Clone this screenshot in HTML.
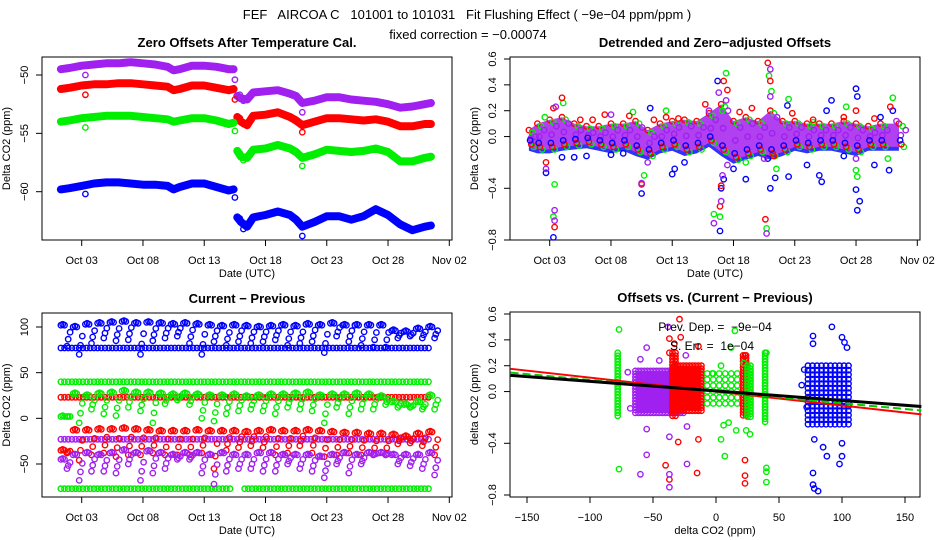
<!DOCTYPE html>
<html><head><meta charset="utf-8"><style>
html,body{margin:0;padding:0;background:#fff;}
svg{display:block;font-family:"Liberation Sans",sans-serif;}
text{white-space:pre;}
</style></head><body>
<svg id="chart" width="936" height="540" viewBox="0 0 936 540" xmlns="http://www.w3.org/2000/svg">
<text x="467" y="19" font-size="13" text-anchor="middle">FEF   AIRCOA C   101001 to 101031   Fit Flushing Effect ( −9e−04 ppm/ppm )</text>
<text x="468" y="39" font-size="13" text-anchor="middle">fixed correction = −0.00074</text>
<g id="layer"></g>
</svg>
<script>
// ---------- data ----------
const dateTickLabels = ["Oct 03","Oct 08","Oct 13","Oct 18","Oct 23","Oct 28","Nov 02"];
const dateTickDays = [3,8,13,18,23,28,33];
const seriesColors = {blue:"#0000ff",red:"#ff0000",green:"#00ee00",purple:"#a020f0"};

// Panel 1: zero offsets
const p1Days1 = [1.3,2,3,4,5,6,7,8,9,10,10.5,11,12,13,14,15,15.4];
const p1Days2 = [15.7,16,16.5,17,18,19,20,20.5,21,22,23,24,25,26,27,28,29,30,31,31.5];
const p1Purple1 = [-49.5,-49.4,-49.2,-49.1,-49.0,-49.0,-48.9,-49.0,-49.1,-49.3,-49.6,-49.5,-49.2,-49.2,-49.3,-49.5,-49.5];
const p1Purple2 = [-51.8,-52.0,-52.1,-51.5,-51.4,-51.3,-51.6,-51.8,-52.4,-52.2,-51.9,-51.9,-52.1,-52.2,-52.3,-52.5,-52.8,-52.7,-52.5,-52.4];
const p1Red1 = [-51.2,-51.1,-50.9,-50.8,-50.8,-50.7,-50.7,-50.8,-50.9,-51.0,-51.3,-51.2,-50.9,-50.9,-51.1,-51.3,-51.2];
const p1Red2 = [-53.6,-54.0,-54.3,-53.5,-53.4,-53.2,-53.6,-53.9,-54.3,-54.0,-53.7,-53.7,-53.8,-53.9,-53.8,-54.0,-54.4,-54.4,-54.2,-54.2];
const p1Green1 = [-54.0,-53.9,-53.7,-53.6,-53.5,-53.5,-53.5,-53.6,-53.7,-53.8,-54.0,-53.9,-53.7,-53.7,-53.9,-54.2,-54.1];
const p1Green2 = [-56.5,-57.0,-57.1,-56.4,-56.3,-56.0,-56.3,-56.6,-57.1,-56.8,-56.4,-56.5,-56.6,-56.5,-56.3,-56.6,-57.4,-57.4,-57.1,-57.0];
const p1Blue1 = [-59.8,-59.7,-59.5,-59.3,-59.2,-59.2,-59.3,-59.4,-59.4,-59.5,-59.8,-59.6,-59.3,-59.3,-59.6,-59.9,-59.8];
const p1Blue2 = [-62.2,-62.6,-63.0,-62.2,-62.0,-61.7,-62.0,-62.4,-63.0,-62.6,-62.1,-62.1,-62.4,-62.1,-61.5,-62.0,-62.8,-63.3,-63.0,-62.9];
const p1OutDays = [3.3,15.5,15.9,16.2,21];
const p1OutPurple = [-50.0,-50.4,-51.7,-52.2,-53.2];
const p1OutRed = [-51.7,-52.1,-53.7,-54.2,-54.9];
const p1OutGreen = [-54.5,-54.8,-56.7,-57.3,-57.8];
const p1OutBlue = [-60.2,-60.5,-62.3,-63.2,-63.8];
const p1YTicks = [-50,-55,-60];

// Panel 2: detrended
const p2BandDays = [1.3,2,3,4,5,6,7,8,9,10,11,12,13,14,15,16,17,18,19,20,21,22,23,24,25,26,27,28,29,30,31.5];
const p2BandHi = [0.05,0.1,0.13,0.15,0.1,0.08,0.08,0.1,0.1,0.12,0.05,0.1,0.12,0.13,0.12,0.18,0.25,0.12,0.15,0.12,0.2,0.12,0.12,0.1,0.1,0.1,0.12,0.1,0.08,0.1,0.1];
const p2BandLo = [-0.08,-0.1,-0.1,-0.08,-0.07,-0.06,-0.08,-0.1,-0.08,-0.12,-0.15,-0.1,-0.08,-0.12,-0.1,-0.05,-0.12,-0.18,-0.15,-0.12,-0.15,-0.12,-0.08,-0.1,-0.08,-0.08,-0.1,-0.12,-0.08,-0.08,-0.08];
const p2BlueDays = [3.3,2.7,5,10.5,11.2,13,13.2,16.7,16.9,17,17.2,18,19,20.8,21,21.4,22.5,22.4,25,26,25.6,25.2,28,28.1,28,28.1,28.3,29.5,30,30.7,31,4,6,8,9,14,24,27];
const p2BlueVals = [-0.78,-0.28,-0.16,-0.44,0.22,-0.29,-0.25,0.43,-0.73,-0.4,-0.33,-0.25,-0.33,-0.17,-0.4,-0.32,-0.31,0.24,-0.3,0.28,0.2,-0.35,0.37,0.31,-0.41,-0.57,-0.5,-0.22,0.15,-0.26,0.2,-0.16,-0.15,-0.14,-0.13,-0.2,-0.22,-0.15];
const p2RedDays = [2.7,3.4,3.3,4,5.5,6.5,7.5,9.5,10.5,11.5,12.5,13.5,15.7,16.9,17,17.2,17.5,18.5,19.5,20.8,21,21.3,22.8,24.5,27,28,29.5,30.8,20.6];
const p2RedVals = [-0.2,-0.7,0.22,0.3,0.13,0.13,0.17,0.16,-0.37,0.13,0.15,0.14,0.25,-0.54,-0.38,0.43,0.36,0.19,0.22,0.57,0.43,-0.15,0.18,0.13,0.15,0.2,0.14,0.23,-0.64];
const p2GreenDays = [2.6,3.4,3.3,4.1,9.8,10.7,12.5,16.4,16.9,17.4,17.1,19,20.9,21.1,20.7,22.5,21.5,24.5,27.2,28,28.1,31,30.6];
const p2GreenVals = [0.15,-0.37,-0.62,0.26,0.19,-0.3,0.2,-0.6,-0.62,0.49,0.2,-0.2,0.47,0.35,-0.71,0.29,-0.25,0.11,0.23,-0.26,-0.31,0.3,-0.17];
const p2PurpleDays = [3.4,3.4,3.5,2.7,8,10.5,16.4,16.8,17,17.1,17.4,17.5,21,21,20.7,20.5,11,16,28,31.3];
const p2PurpleVals = [-0.57,-0.65,0.23,-0.25,0.17,-0.36,-0.67,0.34,-0.5,-0.3,0.28,-0.22,0.52,0.31,-0.75,-0.17,-0.2,0.2,-0.17,0.12];
const p2YTicks = [0.6,0.4,0.2,0.0,-0.4,-0.8];
const p2YLabels = ["0.6","0.4","0.2","0.0","−0.4","−0.8"];

// Panel 3: current - previous
const p3Days = [1.3,2.3,3.3,4.3,5.3,6.3,7.3,8.3,9.3,10.3,11.3,12.3,13.3,14.3,15.3,16.3,17.3,18.3,19.3,20.3,21.3,22.3,23.3,24.3,25.3,26.3,27.3,28.3,29.3,30.3,31.3];
const p3Levels = [77,40,23,-23,-77];
const p3LevelColors = ["blue","green","red","purple","green"];
const p3BlueHi = [102,100,103,104,105,106,104,105,104,103,104,103,102,101,102,101,100,101,102,101,103,102,104,102,102,102,102,96,95,98,100];
const p3BlueLo = [79,70,82,88,85,86,70,85,88,90,82,70,84,80,84,82,84,86,80,82,84,72,90,84,80,78,78,88,90,88,88];
const p3GreenHi = [2,27,25,27,28,30,28,28,27,26,27,26,25,25,26,24,25,26,26,27,28,25,26,26,27,26,24,18,15,18,25];
const p3GreenLo = [2,-5,10,5,3,12,8,-5,16,20,15,0,-3,5,8,10,8,5,12,10,8,-5,12,5,10,10,15,12,12,10,10];
const p3RedHi = [-35,-13,-13,-12,-12,-11,-12,-13,-14,-14,-14,-13,-14,-14,-14,-15,-14,-13,-14,-14,-13,-14,-15,-16,-16,-17,-17,-18,-20,-17,-15];
const p3RedLo = [-38,-46,-40,-38,-42,-40,-40,-38,-40,-40,-40,-38,-55,-35,-32,-30,-32,-40,-38,-30,-38,-42,-40,-38,-40,-40,-40,-28,-27,-30,-40];
const p3PurpleHi = [-45,-40,-38,-40,-38,-35,-38,-36,-38,-40,-38,-38,-40,-38,-40,-40,-38,-38,-40,-40,-40,-42,-40,-38,-40,-38,-38,-40,-40,-40,-38];
const p3PurpleLo = [-55,-68,-58,-58,-60,-50,-68,-60,-55,-45,-45,-60,-72,-58,-55,-55,-58,-58,-50,-55,-58,-65,-50,-60,-50,-40,-40,-50,-52,-55,-62];
const p3YTicks = [100,50,0,-50];

// Panel 4: offsets vs current-previous
const p4ClusterColors = ["green","purple","red","red","green","red","green","green","blue"];
const p4ClusterX = [-77,-44,-22,-33,10,23,27,40,90];
const p4ClusterHalfW = [1,20,11,1.5,17,1.5,2,1,17];
const p4ClusterLo = [-0.2,-0.18,-0.17,-0.2,-0.12,-0.2,-0.2,-0.25,-0.28];
const p4ClusterHi = [0.3,0.16,0.2,0.3,0.14,0.28,0.2,0.3,0.2];
const p4ClusterStep = [3,3,3,3,6,3,3,3,4.5];
const p4GreenX = [-77,-77,15,22,4,4,7,6,16,24,27,40,40,40,40,12,10,-3];
const p4GreenY = [0.48,-0.6,0.47,0.22,0.2,-0.37,-0.5,-0.26,-0.3,-0.3,-0.33,-0.59,-0.62,-0.7,0.3,0.34,-0.24,0.14];
const p4RedX = [-29,-28,-37,-33,-37,-30,-14,-40,-37,-15,23,23,23,23,-14];
const p4RedY = [0.56,0.42,0.41,0.37,0.3,-0.39,-0.37,-0.57,-0.68,-0.63,-0.53,-0.65,-0.71,0.28,0.35];
const p4PurpleX = [-38,-55,-60,-45,-70,-68,-55,-37,-55,-60,-23,-37,-37,-24,-23];
const p4PurpleY = [0.5,0.34,0.25,0.24,0.15,-0.13,-0.29,-0.35,-0.49,-0.64,-0.56,-0.64,-0.74,0.28,-0.27];
const p4BlueX = [77,77,92,100,102,104,77,77,78,81,98,100,88,85,78,100,68,72,70];
const p4BlueY = [0.43,0.37,0.5,0.42,0.38,0.34,-0.63,-0.72,-0.75,-0.77,-0.56,-0.5,-0.5,-0.43,-0.37,-0.4,0.05,-0.12,0.17];
const p4LineSlopes = [-0.00108,-0.0009,-0.00074];
const p4LineIntercepts = [0.0,0.0,0.005];
const p4LineColors = ["#ff0000","#00cc00","#000000"];
const p4XTicks = [-150,-100,-50,0,50,100,150];
const p4XLabels = ["−150","−100","−50","0","50","100","150"];
const p4YTicks = [0.6,0.4,0.2,0.0,-0.4,-0.8];

// ---------- helpers ----------
const NS = "http://www.w3.org/2000/svg";
const layer = document.getElementById("layer");
function mk(tag, attrs, parent){
  const e = document.createElementNS(NS, tag);
  for (const k in attrs) e.setAttribute(k, attrs[k]);
  (parent||layer).appendChild(e);
  return e;
}
function lin(d0,d1,r0,r1){ return v => r0 + (v-d0)*(r1-r0)/(d1-d0); }
function circ(g,x,y,col){
  const c = mk("circle",{cx:x.toFixed(1),cy:y.toFixed(1),r:2.7,fill:"none",stroke:seriesColors[col],"stroke-width":1.4},g);
  
  
  return c;
}
function fmt(v){ return v<0 ? "−"+Math.abs(v) : String(v); }

function frame(name, box, title, xlab, ylab){
  const [x0,y0,x1,y1] = box;
  const g = mk("g",{});
  
  
  const r = mk("rect",{x:x0,y:y0,width:x1-x0,height:y1-y0,fill:"none",stroke:"#000","stroke-width":1},g);
  
  
  const t = mk("text",{x:(x0+x1)/2,y:y0-10,"font-size":13,"font-weight":"bold","text-anchor":"middle"},g);
  t.textContent = title;
  
  
  const xl = mk("text",{x:(x0+x1)/2,y:y1+37,"font-size":11,"text-anchor":"middle"},g);
  xl.textContent = xlab;
  
  
  const yl = mk("text",{x:x0-32,y:(y0+y1)/2,"font-size":11,"text-anchor":"middle",transform:`rotate(-90 ${x0-32} ${(y0+y1)/2})`},g);
  yl.textContent = ylab;
  
  
  return g;
}
function xAxis(g, box, sx, ticks, labels){
  const y1 = box[3];
  mk("line",{x1:sx(ticks[0]),x2:sx(ticks[ticks.length-1]),y1:y1,y2:y1,stroke:"#000"},g);
  ticks.forEach((t,i)=>{
    mk("line",{x1:sx(t),x2:sx(t),y1:y1,y2:y1+6,stroke:"#000"},g);
    const tx = mk("text",{x:sx(t),y:y1+24,"font-size":11,"text-anchor":"middle"},g);
    tx.textContent = labels[i];
    
    
  });
}
function yAxis(g, box, sy, ticks, labels){
  const x0 = box[0];
  mk("line",{x1:x0,x2:x0,y1:sy(ticks[0]),y2:sy(ticks[ticks.length-1]),stroke:"#000"},g);
  ticks.forEach((t,i)=>{
    mk("line",{x1:x0-6,x2:x0,y1:sy(t),y2:sy(t),stroke:"#000"},g);
    const tx = mk("text",{x:x0-14,y:sy(t),"font-size":11,"text-anchor":"middle",transform:`rotate(-90 ${x0-14} ${sy(t)})`},g);
    tx.textContent = labels[i];
    
    
  });
}
function band(g, xs, ys, sx, sy, col){
  const pts = xs.map((d,i)=>sx(d).toFixed(1)+","+sy(ys[i]).toFixed(1)).join(" ");
  const pl = mk("polyline",{points:pts,fill:"none",stroke:seriesColors[col],"stroke-width":8,"stroke-linejoin":"round","stroke-linecap":"round"},g);
  
  
}

// ---------- panel 1 ----------
(function(){
  const box=[42,57,452,240];
  const g = frame("zero-offsets-panel", box, "Zero Offsets After Temperature Cal.", "Date (UTC)", "Delta CO2 (ppm)");
  const sx = lin(3,33,81.7,449.3), sy = lin(-50,-60,75,191.7);
  xAxis(g, box, sx, dateTickDays, dateTickLabels);
  yAxis(g, box, sy, p1YTicks, p1YTicks.map(fmt));
  band(g,p1Days1,p1Purple1,sx,sy,"purple"); band(g,p1Days2,p1Purple2,sx,sy,"purple");
  band(g,p1Days1,p1Red1,sx,sy,"red"); band(g,p1Days2,p1Red2,sx,sy,"red");
  band(g,p1Days1,p1Green1,sx,sy,"green"); band(g,p1Days2,p1Green2,sx,sy,"green");
  band(g,p1Days1,p1Blue1,sx,sy,"blue"); band(g,p1Days2,p1Blue2,sx,sy,"blue");
  p1OutDays.forEach((d,i)=>{
    circ(g,sx(d),sy(p1OutPurple[i]),"purple"); circ(g,sx(d),sy(p1OutRed[i]),"red");
    circ(g,sx(d),sy(p1OutGreen[i]),"green"); circ(g,sx(d),sy(p1OutBlue[i]),"blue");
  });
})();

// ---------- panel 2 ----------
(function(){
  const box=[510,57,920,240];
  const g = frame("detrended-offsets-panel", box, "Detrended and Zero−adjusted Offsets", "Date (UTC)", "Delta CO2 (ppm)");
  const sx = lin(3,33,549.7,917.3), sy = lin(0.6,-0.8,59,240);
  xAxis(g, box, sx, dateTickDays, dateTickLabels);
  yAxis(g, box, sy, p2YTicks, p2YLabels);
  const blo = p2BandDays.map((d,i)=>sx(d).toFixed(1)+","+sy(p2BandLo[i]-0.03).toFixed(1));
  const bhi = p2BandDays.map((d,i)=>sx(d).toFixed(1)+","+sy(p2BandHi[i]-0.03).toFixed(1)).reverse();
  const bp = mk("polygon",{points:blo.concat(bhi).join(" "),fill:"#3030ff"},g);
  
  
  const lo = p2BandDays.map((d,i)=>sx(d).toFixed(1)+","+sy(p2BandLo[i]).toFixed(1));
  const hi = p2BandDays.map((d,i)=>sx(d).toFixed(1)+","+sy(p2BandHi[i]).toFixed(1)).reverse();
  const pp = mk("polygon",{points:lo.concat(hi).join(" "),fill:"#b040f0"},g);
  
  
  p2BandDays.forEach((d,i)=>{
    circ(g,sx(d),sy(p2BandHi[i]),"red"); circ(g,sx(d+0.4),sy(p2BandLo[i]),"green");
    circ(g,sx(d+0.2),sy(p2BandLo[i]+0.02),"red"); circ(g,sx(d+0.3),sy(p2BandHi[i]-0.02),"green");
    circ(g,sx(d+0.15),sy((p2BandHi[i]+p2BandLo[i])/2),"purple");
    circ(g,sx(d+0.55),sy(p2BandHi[i]-0.05),"purple");
    circ(g,sx(d+0.1),sy(p2BandLo[i]+0.05),"blue");
  });
  p2BlueDays.forEach((d,i)=>circ(g,sx(d),sy(p2BlueVals[i]),"blue"));
  p2GreenDays.forEach((d,i)=>circ(g,sx(d),sy(p2GreenVals[i]),"green"));
  p2RedDays.forEach((d,i)=>circ(g,sx(d),sy(p2RedVals[i]),"red"));
  p2PurpleDays.forEach((d,i)=>circ(g,sx(d),sy(p2PurpleVals[i]),"purple"));
})();

// ---------- panel 3 ----------
(function(){
  const box=[42,313,452,497];
  const g = frame("current-minus-previous-panel", box, "Current − Previous", "Date (UTC)", "Delta CO2 (ppm)");
  const sx = lin(3,33,81.7,449.3), sy = lin(100,-50,327,464);
  xAxis(g, box, sx, dateTickDays, dateTickLabels);
  yAxis(g, box, sy, p3YTicks, p3YTicks.map(fmt));
  p3Levels.forEach((lv,k)=>{
    for(let d=1.3; d<=31.5; d+=0.3){
      if (lv===-77 && d>15.3 && d<16.2) continue;
      circ(g,sx(d),sy(lv),p3LevelColors[k]);
    }
  });
  const sets=[["blue",p3BlueHi,p3BlueLo],["green",p3GreenHi,p3GreenLo],["red",p3RedHi,p3RedLo],["purple",p3PurpleHi,p3PurpleLo]];
  sets.forEach(([c,hi,lo])=>{
    p3Days.forEach((d,i)=>{
      circ(g,sx(d),sy(hi[i]),c); circ(g,sx(d+0.15),sy(hi[i]+1),c); circ(g,sx(d+0.3),sy(hi[i]),c);
      circ(g,sx(d+0.5),sy(lo[i]),c); circ(g,sx(d+0.6),sy((hi[i]+2*lo[i])/3),c);
      circ(g,sx(d+0.75),sy((2*hi[i]+lo[i])/3),c);
    });
  });
})();

// ---------- panel 4 ----------
(function(){
  const box=[510,312,920,497];
  const g = frame("offsets-vs-difference-panel", box, "Offsets vs. (Current − Previous)", "delta CO2 (ppm)", "delta CO2 (ppm)");
  const sx = lin(-150,150,527,905), sy = lin(0.6,-0.8,314,495);
  xAxis(g, box, sx, p4XTicks, p4XLabels);
  yAxis(g, box, sy, p4YTicks, p2YLabels);
  p4ClusterX.forEach((cx,i)=>{
    const col = p4ClusterColors[i], st = p4ClusterStep[i];
    const xa = sx(cx-p4ClusterHalfW[i]), xb = sx(cx+p4ClusterHalfW[i]);
    const ya = sy(p4ClusterHi[i]), yb = sy(p4ClusterLo[i]);
    for (let x=xa; x<=xb+0.1; x+=st){
      for (let y=ya; y<=yb+0.1; y+=st){
        circ(g,x,y,col);
      }
    }
  });
  p4GreenX.forEach((x,i)=>circ(g,sx(x),sy(p4GreenY[i]),"green"));
  p4RedX.forEach((x,i)=>circ(g,sx(x),sy(p4RedY[i]),"red"));
  p4PurpleX.forEach((x,i)=>circ(g,sx(x),sy(p4PurpleY[i]),"purple"));
  p4BlueX.forEach((x,i)=>circ(g,sx(x),sy(p4BlueY[i]),"blue"));
  p4LineSlopes.forEach((m,i)=>{
    const xa=-163, xb=163;
    const l = mk("line",{x1:sx(xa),y1:sy(p4LineIntercepts[i]+m*xa),x2:sx(xb),y2:sy(p4LineIntercepts[i]+m*xb),
      stroke:p4LineColors[i],"stroke-width":i===2?3:2,"stroke-dasharray":i===1?"8,4":"none"},g);
    
    
  });
  const t1 = mk("text",{x:715,y:331,"font-size":12,"text-anchor":"middle"},g);
  t1.textContent = "Prev. Dep. =  −9e−04";
  
  
  const t2 = mk("text",{x:712,y:350,"font-size":12,"text-anchor":"middle"},g);
  t2.textContent = "S. Err. =  1e−04";
  
  
})();
</script>
</body></html>
